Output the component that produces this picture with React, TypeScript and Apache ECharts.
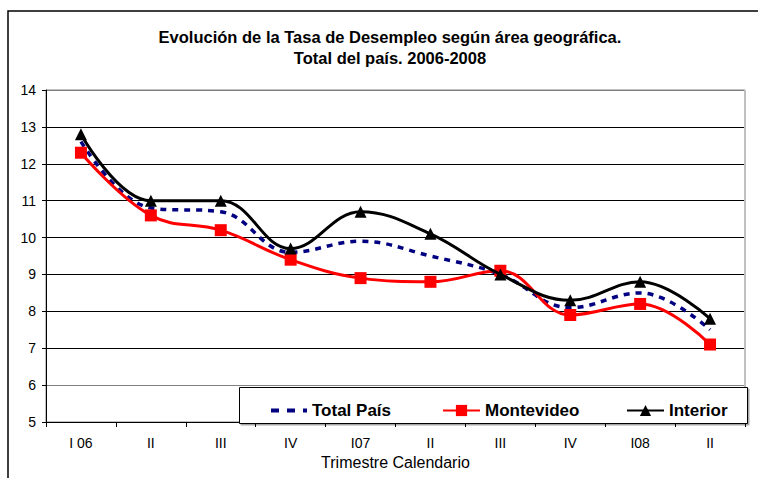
import React, { useEffect, useRef } from "react";
import * as echarts from "echarts";

const categories = ["I 06", "II", "III", "IV", "I07", "II", "III", "IV", "I08", "II"];
const totalPais = [12.6, 10.8, 10.7, 9.6, 9.9, 9.5, 9.0, 8.1, 8.5, 7.5];
const montevideo = [12.3, 10.6, 10.2, 9.4, 8.9, 8.8, 9.1, 7.9, 8.2, 7.1];
const interior = [12.8, 11.0, 11.0, 9.7, 10.7, 10.1, 9.0, 8.3, 8.8, 7.8];
const titleLines = ["Evolución de la Tasa de Desempleo según área geográfica.", "Total del país. 2006-2008"];
const xAxisName = "Trimestre Calendario";

const FONT = "Arial, 'Liberation Sans', sans-serif";

export default function App() {
  const ref = useRef<HTMLDivElement>(null);
  useEffect(() => {
    if (!ref.current) return;
    const chart = echarts.init(ref.current, undefined, { renderer: "svg" });
    const legendText = { fontFamily: FONT, fontWeight: "bold", fontSize: 17, color: "#000" };
    chart.setOption({
      animation: false,
      backgroundColor: "#fff",
      grid: {
        left: 46,
        right: 13,
        top: 90,
        bottom: 56,
        show: true,
        borderColor: "#808080",
        borderWidth: 1,
      },
      xAxis: {
        type: "category",
        data: categories,
        boundaryGap: true,
        name: xAxisName,
        nameLocation: "middle",
        nameGap: 31,
        nameTextStyle: { fontFamily: FONT, fontSize: 16, color: "#000" },
        axisLine: { lineStyle: { color: "#000", width: 1 } },
        axisTick: { show: true, length: 5, lineStyle: { color: "#000" }, alignWithLabel: false },
        axisLabel: { fontFamily: FONT, fontSize: 14, color: "#000", margin: 14, interval: 0 },
        splitLine: { show: false },
      },
      yAxis: {
        type: "value",
        min: 5,
        max: 14,
        interval: 1,
        axisLine: { show: true, lineStyle: { color: "#000", width: 1 } },
        axisTick: { show: true, length: 4, lineStyle: { color: "#000" } },
        axisLabel: { fontFamily: FONT, fontSize: 14, color: "#000", margin: 10 },
        splitLine: {
          show: true,
          lineStyle: {
            color: ["#000", "#808080", "#000", "#000", "#000", "#000", "#000", "#000", "#000", "#808080"],
            width: 1,
          },
        },
      },
      legend: [
        {
          data: ["Total País"],
          left: 264,
          top: 397,
          itemWidth: 36,
          itemHeight: 14,
          itemStyle: { opacity: 0 },
          lineStyle: { type: [8, 8], width: 4, color: "#000080" },
          textStyle: legendText,
          z: 120,
        },
        {
          data: ["Montevideo"],
          left: 437,
          top: 397,
          itemWidth: 37,
          itemHeight: 14,
          textStyle: legendText,
          z: 120,
        },
        {
          data: ["Interior"],
          left: 621,
          top: 397,
          itemWidth: 37,
          itemHeight: 14,
          textStyle: legendText,
          z: 120,
        },
      ],
      graphic: [
        {
          type: "rect",
          shape: { x: 8, y: 11, width: 800, height: 500 },
          style: { fill: "none", stroke: "#000", lineWidth: 1.5 },
          z: 1,
          silent: true,
        },
        {
          type: "text",
          x: 390,
          y: 26,
          style: {
            text: titleLines.join("\n"),
            fontFamily: FONT,
            fontWeight: "bold",
            fontSize: 16.5,
            lineHeight: 21,
            fill: "#000",
            align: "center",
          },
          z: 10,
        },
        {
          type: "line",
          shape: { x1: 745, y1: 90, x2: 745, y2: 422 },
          style: { stroke: "#c0c0c0", lineWidth: 2 },
          z: 10,
          silent: true,
        },
        {
          type: "rect",
          shape: { x: 239.5, y: 387.5, width: 508, height: 36 },
          style: {
            fill: "#fff",
            stroke: "#000",
            lineWidth: 1,
            shadowColor: "rgba(0,0,0,0.35)",
            shadowBlur: 0,
            shadowOffsetX: 1.5,
            shadowOffsetY: 1.5,
          },
          z: 100,
          silent: true,
        },
      ],
      series: [
        {
          name: "Total País",
          type: "line",
          data: totalPais,
          smooth: 0.4,
          symbol: "none",
          color: "#000080",
          lineStyle: { color: "#000080", width: 3.5, type: [6, 6] },
          z: 3,
        },
        {
          name: "Montevideo",
          type: "line",
          data: montevideo,
          smooth: 0.4,
          symbol: "rect",
          symbolSize: 12,
          color: "#ff0000",
          itemStyle: { color: "#ff0000" },
          lineStyle: { color: "#ff0000", width: 3 },
          z: 4,
        },
        {
          name: "Interior",
          type: "line",
          data: interior,
          smooth: 0.4,
          symbol: "triangle",
          symbolSize: 12,
          color: "#000",
          itemStyle: { color: "#000" },
          lineStyle: { color: "#000", width: 3 },
          z: 5,
        },
      ],
    });
    return () => chart.dispose();
  }, []);
  return <div ref={ref} style={{ width: 758, height: 478, position: "absolute", left: 0, top: 0 }} />;
}
